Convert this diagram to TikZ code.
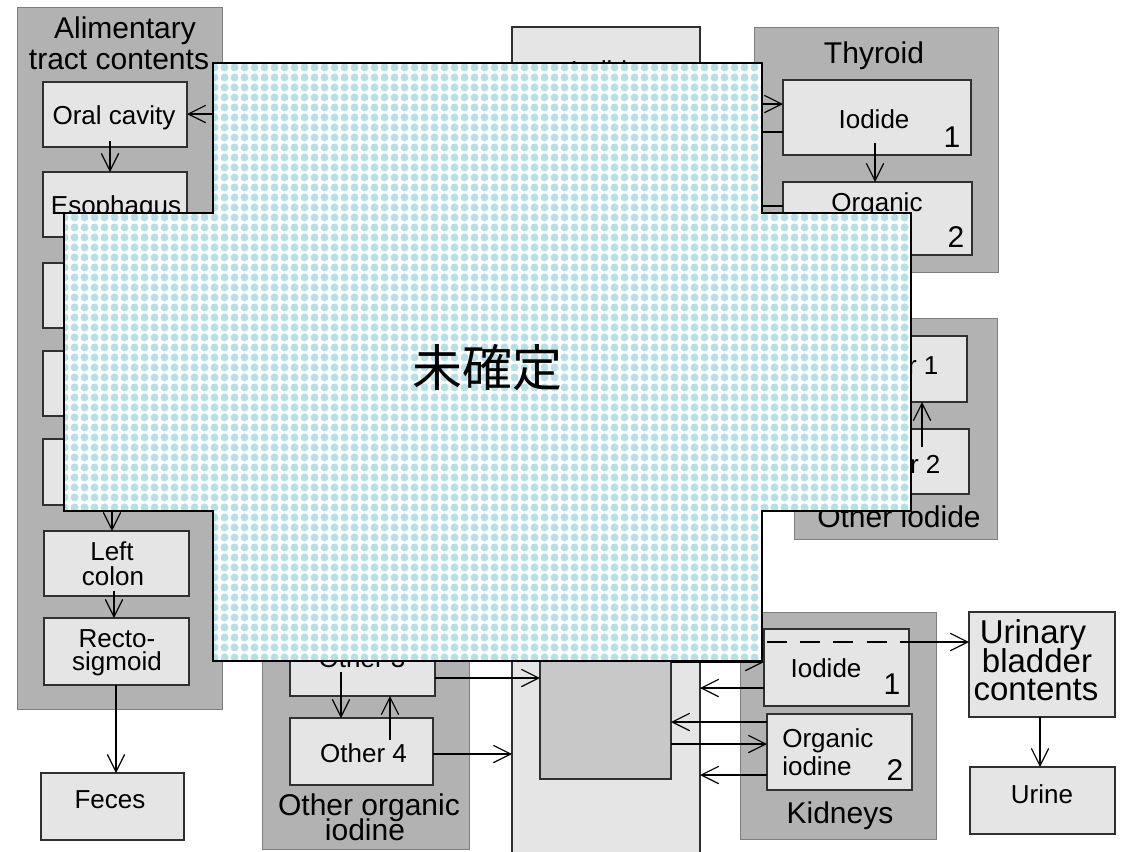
\documentclass[tikz,border=0pt]{standalone}
\usepackage{fontspec}
\setmainfont{Liberation Sans}
\newfontfamily\cjk{Noto Sans CJK JP}
\usetikzlibrary{arrows.meta,patterns,calc}
\definecolor{grpfill}{HTML}{B2B2B2}
\definecolor{grpline}{HTML}{7F7F7F}
\definecolor{boxfill}{HTML}{E5E5E5}
\definecolor{boxline}{HTML}{303030}
\definecolor{binfill}{HTML}{C8C8C8}
\definecolor{bubble}{RGB}{182,224,229}
\pgfdeclarepatternformonly{bubbles}{\pgfqpoint{0pt}{0pt}}{\pgfqpoint{7.5pt}{7.5pt}}{\pgfqpoint{7.5pt}{7.5pt}}{%
  \pgfpathcircle{\pgfqpoint{3.75pt}{3.75pt}}{3.3pt}\pgfusepath{fill}}
\tikzset{
  grp/.style={draw=grpline, fill=grpfill, line width=0.75pt, inner sep=0pt, outer sep=0pt},
  ibox/.style={draw=boxline, fill=boxfill, line width=1.1pt, inner sep=0pt, outer sep=0pt},
  wh/.style 2 args={minimum width=#1*0.75pt, minimum height=#2*0.75pt},
  arr/.style={line width=0.9pt, -{Straight Barb[length=13pt,width=13pt,line width=0.9pt]}},
  lbl/.style={anchor=base, inner sep=0pt, font=\fontsize{19.5}{19.5}\selectfont},
  ttl/.style={anchor=base, inner sep=0pt, font=\fontsize{22.5}{22.5}\selectfont},
  big/.style={anchor=base, inner sep=0pt, font=\fontsize{24.75}{24.75}\selectfont},
}
\begin{document}
\begin{tikzpicture}[x=0.75pt,y=-0.75pt]
\useasboundingbox (0,0) rectangle (1123,851);
\clip (0,0) rectangle (1123,851);
% group boxes
\node[grp, wh={205}{702}] (ali) at (119.5,358) {};
\node[grp, wh={244}{245}] (thy) at (876,149.5) {};
\node[grp, wh={203}{221}] (oth) at (895.5,428.5) {};
\node[grp, wh={207}{309}] (oo) at (365.5,694.5) {};
\node[grp, wh={196}{227}] (kid) at (838,725.5) {};
% blood column
\node[ibox, wh={188}{833}] (blood) at (606,443.5) {};
\node[ibox, fill=binfill, wh={131}{349}] (bin) at (605.5,604.5) {};
% alimentary tract
\node[ibox, wh={144}{65}] (oral) at (115,114.5) {};
\node[ibox, wh={144}{65}] (eso) at (115,204.5) {};
\node[ibox, wh={144}{65}] (sto) at (115,295.5) {};
\node[ibox, wh={144}{65}] (b4) at (115,383.5) {};
\node[ibox, wh={144}{66}] (b5) at (115,472) {};
\node[ibox, wh={145}{65}] (lcol) at (116.5,563.5) {};
\node[ibox, wh={145}{67}] (recto) at (116.5,651.5) {};
\node[ibox, wh={143}{67}] (feces) at (112.5,806.5) {};
% thyroid
\node[ibox, wh={188}{75}] (tI) at (877,117.5) {};
\node[ibox, wh={189}{73}] (tO) at (877.5,218.5) {};
% other iodide
\node[ibox, wh={145}{66}] (o1) at (894.5,369) {};
\node[ibox, wh={145}{65}] (o2) at (896.5,461.5) {};
% other organic iodine
\node[ibox, wh={145}{66}] (o3) at (362.5,663) {};
\node[ibox, wh={143}{67}] (o4) at (361.5,751.5) {};
% kidneys and urine
\node[ibox, wh={145}{77}] (kI) at (836.5,667.5) {};
\node[ibox, wh={145}{76}] (kO) at (839.5,752) {};
\node[ibox, wh={146}{105}] (uri) at (1042,664.5) {};
\node[ibox, wh={145}{67}] (urine) at (1042.5,800.5) {};
% texts
\node[ttl] (tA1) at (125,38) {Alimentary};
\node[ttl] (tA2) at (119,69) {tract contents};
\node[lbl] (tOral) at (114,124) {Oral cavity};
\node[lbl] (tEso) at (116,214) {Esophagus};
\node[lbl] (tSto) at (117,305) {Stomach};
\node[lbl] (tL1) at (112,560) {Left};
\node[lbl] (tL2) at (113,585) {colon};
\node[lbl] (tR1) at (117,647) {Recto-};
\node[lbl] (tR2) at (117,670) {sigmoid};
\node[lbl] (tFe) at (110,808) {Feces};
\node[ttl] (tThy) at (874,63) {Thyroid};
\node[lbl] (tTI) at (874,128) {Iodide};
\node[ttl] (tT1) at (952,147) {1};
\node[lbl] (tTO) at (877,211) {Organic};
\node[ttl] (tT2) at (956,247) {2};
\node[lbl] (tBl) at (606,79) {Iodide};
\node[lbl] (tO1) at (895,374) {Other 1};
\node[lbl] (tO2) at (897,473) {Other 2};
\node[ttl] (tOth) at (899,527) {Other iodide};
\node[lbl] (tO3) at (362,667) {Other 3};
\node[lbl] (tO4) at (363.5,762) {Other 4};
\node[ttl] (tOo1) at (369,815) {Other organic};
\node[ttl] (tOo2) at (365,840) {iodine};
\node[lbl] (tKI) at (826,677) {Iodide};
\node[ttl] (tK1) at (892,694) {1};
\node[lbl, anchor=base west] (tKO1) at (782,747) {Organic};
\node[lbl, anchor=base west] (tKO2) at (782,775) {iodine};
\node[ttl] (tK2) at (895,780) {2};
\node[ttl] (tKid) at (840,823) {Kidneys};
\node[big] (tU1) at (1033,643) {Urinary};
\node[big] (tU2) at (1037,672) {bladder};
\node[big] (tU3) at (1036,700) {contents};
\node[lbl] (tUr) at (1042,803) {Urine};
% connectors
\draw[arr] ($(oral.south -| 110,0)+(0,-6)$) -- (eso.north -| 110,0);
\draw[arr] (eso.south -| 110,0) -- (sto.north -| 110,0);
\draw[arr] (sto.south -| 110,0) -- (b4.north -| 110,0);
\draw[arr] (b4.south -| 111,0) -- (b5.north -| 111,0);
\draw[arr] (b5.south -| 112,0) -- (lcol.north -| 112,0);
\draw[arr] ($(lcol.south -| 114,0)+(0,-5)$) -- (recto.north -| 114,0);
\draw[arr] (recto.south -| 116,0) -- (feces.north -| 116,0);
\draw[arr] (blood.west |- 0,114) -- (oral.east |- 0,114);
\draw[arr] (blood.east |- 0,104) -- (tI.west |- 0,104);
\draw[arr] (tI.west |- 0,132) -- (blood.east |- 0,132);
\draw[arr] ($(tI.south -| 875,0)+(0,-12)$) -- (tO.north -| 875,0);
\draw[arr] (tO.west |- 0,206) -- (blood.east |- 0,206);
\draw[arr] ($(o2.north -| 922,0)+(0,18)$) -- (o1.south -| 922,0);
\draw[arr] ($(o3.south -| 341,0)+(0,-24)$) -- (o4.north -| 341,0);
\draw[arr] ($(o4.north -| 390,0)+(0,22)$) -- (o3.south -| 390,0);
\draw[arr] (o3.east |- 0,678) -- (bin.west |- 0,678);
\draw[arr] (o4.east |- 0,754) -- (blood.west |- 0,754);
\draw[arr] (bin.east |- 0,662) -- (kI.west |- 0,662);
\draw[arr] (kI.west |- 0,688) -- (blood.east |- 0,688);
\draw[arr] (kO.west |- 0,722) -- (bin.east |- 0,722);
\draw[arr] (bin.east |- 0,744) -- (kO.west |- 0,744);
\draw[arr] (kO.west |- 0,775) -- (blood.east |- 0,775);
\draw[line width=0.9pt, dash pattern=on 15pt off 10pt] (blood.east |- 0,642) -- (kI.east |- 0,642);
\draw[arr] (kI.east |- 0,642) -- (uri.west |- 0,642);
\draw[arr] (uri.south -| 1040,0) -- (urine.north -| 1040,0);
% overlay
\path[preaction={fill=white}, pattern=bubbles, pattern color=bubble, draw=black, line width=2.2pt]
  (213,63) -- (762,63) -- (762,213) -- (911,213) -- (911,511) -- (762,511) -- (762,661)
  -- (213,661) -- (213,511) -- (64,511) -- (64,213) -- (213,213) -- cycle;
\node[inner sep=0pt, font=\cjk\fontsize{37.5}{37.5}\selectfont] (mk) at (487,368) {未確定};
\end{tikzpicture}
\end{document}
